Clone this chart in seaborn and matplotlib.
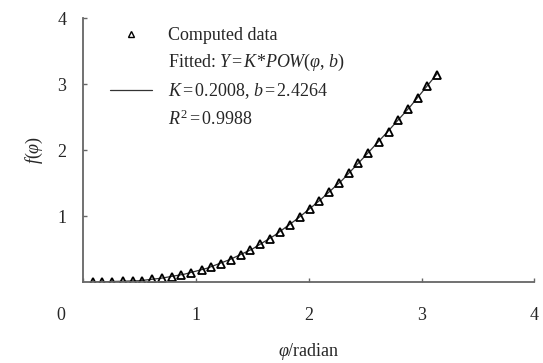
import matplotlib
matplotlib.use("Agg")
import matplotlib.pyplot as plt
import matplotlib.transforms as mtransforms
from matplotlib.lines import Line2D
import seaborn as sns
import pandas as pd

sns.set_style("ticks")
plt.rcParams['font.family'] = ['Liberation Serif', 'DejaVu Serif']
plt.rcParams['mathtext.fontset'] = 'custom'
plt.rcParams['mathtext.rm'] = 'Liberation Serif'
plt.rcParams['mathtext.it'] = 'Liberation Serif:italic'

# computed data (phi in radian, f(phi))
phi = [0.09, 0.17, 0.26, 0.35, 0.44, 0.52, 0.61, 0.70, 0.79, 0.87, 0.96, 1.05,
       1.13, 1.22, 1.31, 1.40, 1.48, 1.57, 1.66, 1.75, 1.83, 1.92, 2.01, 2.09,
       2.18, 2.27, 2.36, 2.44, 2.53, 2.62, 2.71, 2.79, 2.88, 2.97, 3.05, 3.14]
f_phi = [0.00, 0.00, 0.00, 0.01, 0.01, 0.02, 0.04, 0.06, 0.08, 0.11, 0.14, 0.18,
         0.23, 0.28, 0.34, 0.41, 0.49, 0.57, 0.66, 0.76, 0.87, 0.98, 1.10, 1.23,
         1.36, 1.50, 1.65, 1.80, 1.96, 2.12, 2.28, 2.45, 2.62, 2.79, 2.97, 3.14]

# fitted curve Y = K*POW(phi, b), as traced on the chart
fit_x = [0.09, 0.3, 0.5, 0.7, 0.9, 1.1, 1.3, 1.5, 1.7, 1.9, 2.1, 2.3, 2.5, 2.7, 2.9, 3.14]
fit_y = [0.00, 0.01, 0.02, 0.06, 0.12, 0.21, 0.34, 0.50, 0.71, 0.96, 1.24, 1.55, 1.91, 2.28, 2.66, 3.16]

x_ticks = [0, 1, 2, 3, 4]
y_ticks = [1, 2, 3, 4]

data = pd.DataFrame({'phi': phi, 'f': f_phi})
fit = pd.DataFrame({'phi': fit_x, 'f': fit_y})

fig = plt.figure(figsize=(5.43, 3.63), dpi=100)
ax = fig.add_axes([0.153, 0.223, 0.831, 0.727])

sns.lineplot(data=fit, x='phi', y='f', ax=ax, color='#333333', linewidth=0.9)
ax.plot(data['phi'], data['f'], linestyle='none', marker='^', markersize=6,
        markerfacecolor='none', markeredgecolor='black', markeredgewidth=1.3)

ax.set_xlim(0, 4)
ax.set_ylim(0, 4)
ax.set_xticks(x_ticks)
ax.set_yticks(y_ticks)
ax.tick_params(direction='in', length=3, width=1, color='#666666', labelsize=13)
ax.tick_params(axis='x', pad=18)
ax.tick_params(axis='y', pad=12)

for side in ['top', 'right']:
    ax.spines[side].set_visible(False)
for side in ['left', 'bottom']:
    ax.spines[side].set_color('#666666')
    ax.spines[side].set_linewidth(1.3)

# shared origin label sits left of the corner
lab0 = ax.get_xticklabels()[0]
lab0.set_transform(lab0.get_transform() + mtransforms.ScaledTranslation(-22 / 100, 0, fig.dpi_scale_trans))

ax.set_xlabel(r'$\varphi$/radian', fontsize=13, labelpad=12)
ax.set_ylabel(r'$f$($\varphi$)', fontsize=13, labelpad=9)

handles = [
    Line2D([], [], linestyle='none', marker='^', markersize=4, markerfacecolor='none',
           markeredgecolor='black', markeredgewidth=1.0),
    Line2D([], [], linestyle='none'),
    Line2D([], [], color='#333333', linewidth=0.9),
    Line2D([], [], linestyle='none'),
]
labels = [
    'Computed data',
    r'Fitted: $Y\,$=$\,K$*$POW$($\varphi$, $b$)',
    r'$K\,$=$\,$0.2008, $b\,$=$\,$2.4264',
    r'$R^2\,$=$\,$0.9988',
]
ax.legend(handles, labels, loc='upper left', bbox_to_anchor=(110 / 543, 1 - 27 / 363),
          bbox_transform=fig.transFigure, frameon=False, fontsize=13,
          handlelength=2.3, handletextpad=0.9, labelspacing=0.45,
          borderpad=0, borderaxespad=0)

fig.savefig('out.png', dpi=100)
